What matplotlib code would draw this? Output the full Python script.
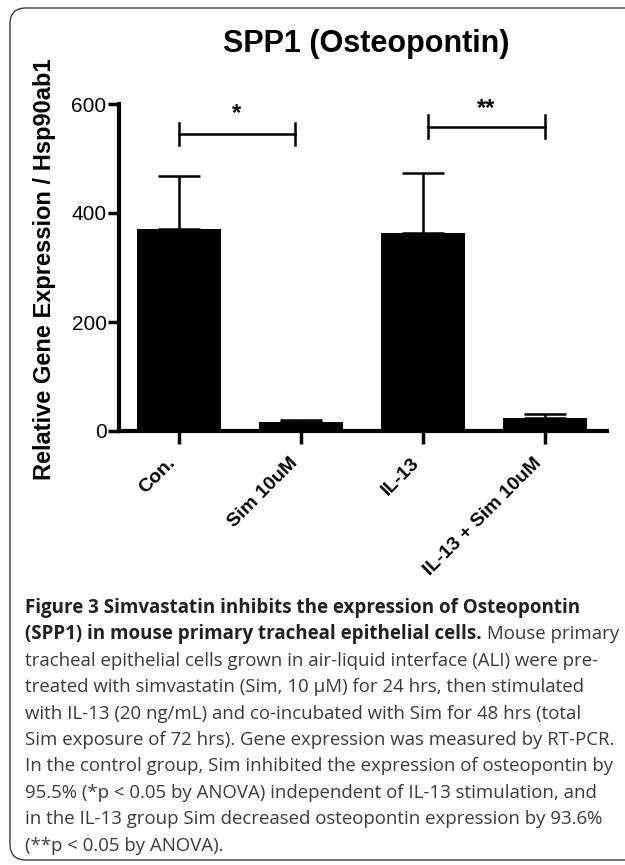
import numpy as np
import matplotlib
matplotlib.use('Agg')
import matplotlib.pyplot as plt
from matplotlib.patches import FancyBboxPatch
from matplotlib.transforms import IdentityTransform, ScaledTranslation

# data
groups = ['Con.', 'Sim 10uM', 'IL-13', 'IL-13 + Sim 10uM']
means = [370, 16, 364, 24]
sem = [97, 5, 109, 7]
yticks = [0, 200, 400, 600]

# significance brackets (x from, x to, height) and their labels
sig_from = [0, 2.04]
sig_to = [0.95, 3.0]
sig_y = [545, 558]
sig_label = ['*', '**']
sig_label_y = [571, 580]

caption_bold = ['Figure 3 Simvastatin inhibits the expression of Osteopontin',
                '(SPP1) in mouse primary tracheal epithelial cells.']
caption_rest = [' Mouse primary',
                'tracheal epithelial cells grown in air-liquid interface (ALI) were pre-',
                'treated with simvastatin (Sim, 10 \u03bcM) for 24 hrs, then stimulated',
                'with IL-13 (20 ng/mL) and co-incubated with Sim for 48 hrs (total',
                'Sim exposure of 72 hrs). Gene expression was measured by RT-PCR.',
                'In the control group, Sim inhibited the expression of osteopontin by',
                '95.5% (*p < 0.05 by ANOVA) independent of IL-13 stimulation, and',
                'in the IL-13 group Sim decreased osteopontin expression by 93.6%',
                '(**p < 0.05 by ANOVA).']

W, H = 625, 865
fig = plt.figure(figsize=(W / 100, H / 100), dpi=100)
plt.rcParams['font.family'] = ['Liberation Sans', 'DejaVu Sans']

# rounded frame around figure + caption
frame = FancyBboxPatch((10, H - 860), 640, 852, boxstyle='round,pad=0,rounding_size=16',
                       transform=IdentityTransform(), fill=False, ec='#3a3a3a', lw=1.0)
fig.patches.append(frame)

ax = fig.add_axes([119 / W, 1 - 431 / H, (607 - 119) / W, (431 - 104) / H])
x = np.arange(len(groups))
ax.bar(x, means, width=0.69, color='black', zorder=2,
       yerr=[np.zeros(len(sem)), sem],
       error_kw=dict(ecolor='black', elinewidth=1.8, capsize=15, capthick=1.8, zorder=3))

ax.set_xlim(-0.49, 3.51)
ax.set_ylim(0, 600)
ax.set_yticks(yticks)
ax.set_xticks(x)
ax.set_xticklabels(groups, rotation=45, ha='right', va='top', fontsize=14, fontweight='bold')
shift = ScaledTranslation(5 / 100, 0, fig.dpi_scale_trans)
for lab in ax.get_xticklabels():
    lab.set_transform(lab.get_transform() + shift)
for s in ['top', 'right']:
    ax.spines[s].set_visible(False)
for s in ['left', 'bottom']:
    ax.spines[s].set_linewidth(3)
ax.spines['left'].set_bounds(0, 600)
ax.tick_params(axis='y', length=8, width=2.5, labelsize=15, pad=1)
ax.tick_params(axis='x', length=9, width=2.5, pad=8)

for a, b, h, lab, ly in zip(sig_from, sig_to, sig_y, sig_label, sig_label_y):
    ax.plot([a, b], [h, h], color='black', lw=1.8, clip_on=False)
    ax.plot([a, a], [h - 21, h + 21], color='black', lw=1.8, clip_on=False)
    ax.plot([b, b], [h - 21, h + 21], color='black', lw=1.8, clip_on=False)
    ax.text((a + b) / 2, ly, lab, ha='center', va='baseline', fontsize=17,
            fontweight='bold', clip_on=False)

fig.text(366 / W, 1 - 52 / H, 'SPP1 (Osteopontin)', ha='center', va='baseline',
         fontsize=22, fontweight='bold')
fig.text(45 / W, 1 - 269 / H, 'Relative Gene Expression / Hsp90ab1', rotation=90,
         ha='center', va='center', fontsize=17, fontweight='bold')

# caption, sized so the widths match the reference
renderer = fig.canvas.get_renderer()
cap_font = 'Open Sans'


def width_px(s, size, weight):
    t = fig.text(0, 0, s, fontsize=size, fontweight=weight, family=cap_font)
    w = t.get_window_extent(renderer=renderer).width
    t.remove()
    return w


def fit_size(s, weight, target):
    size = 12.0
    for _ in range(4):
        size = size * target / width_px(s, size, weight)
    return size


bold_size = fit_size(caption_bold[0], 'bold', 580 - 25)
reg_size = fit_size(caption_rest[5], 'normal', 612 - 25)

x0 = 25
base0 = 613
step = 26.4
lines_y = [base0 + step * i for i in range(10)]

fig.text(x0 / W, 1 - lines_y[0] / H, caption_bold[0], fontsize=bold_size, fontweight='bold',
         family=cap_font, color='#231f20', va='baseline')
tb = fig.text(x0 / W, 1 - lines_y[1] / H, caption_bold[1], fontsize=bold_size, fontweight='bold',
              family=cap_font, color='#231f20', va='baseline')
bw = tb.get_window_extent(renderer=renderer).width
fig.text((x0 + bw) / W, 1 - lines_y[1] / H, caption_rest[0], fontsize=reg_size,
         family=cap_font, color='#3a3a3a', va='baseline')
for i, line in enumerate(caption_rest[1:]):
    fig.text(x0 / W, 1 - lines_y[i + 2] / H, line, fontsize=reg_size,
             family=cap_font, color='#3a3a3a', va='baseline')

fig.savefig('out.png', dpi=100)
